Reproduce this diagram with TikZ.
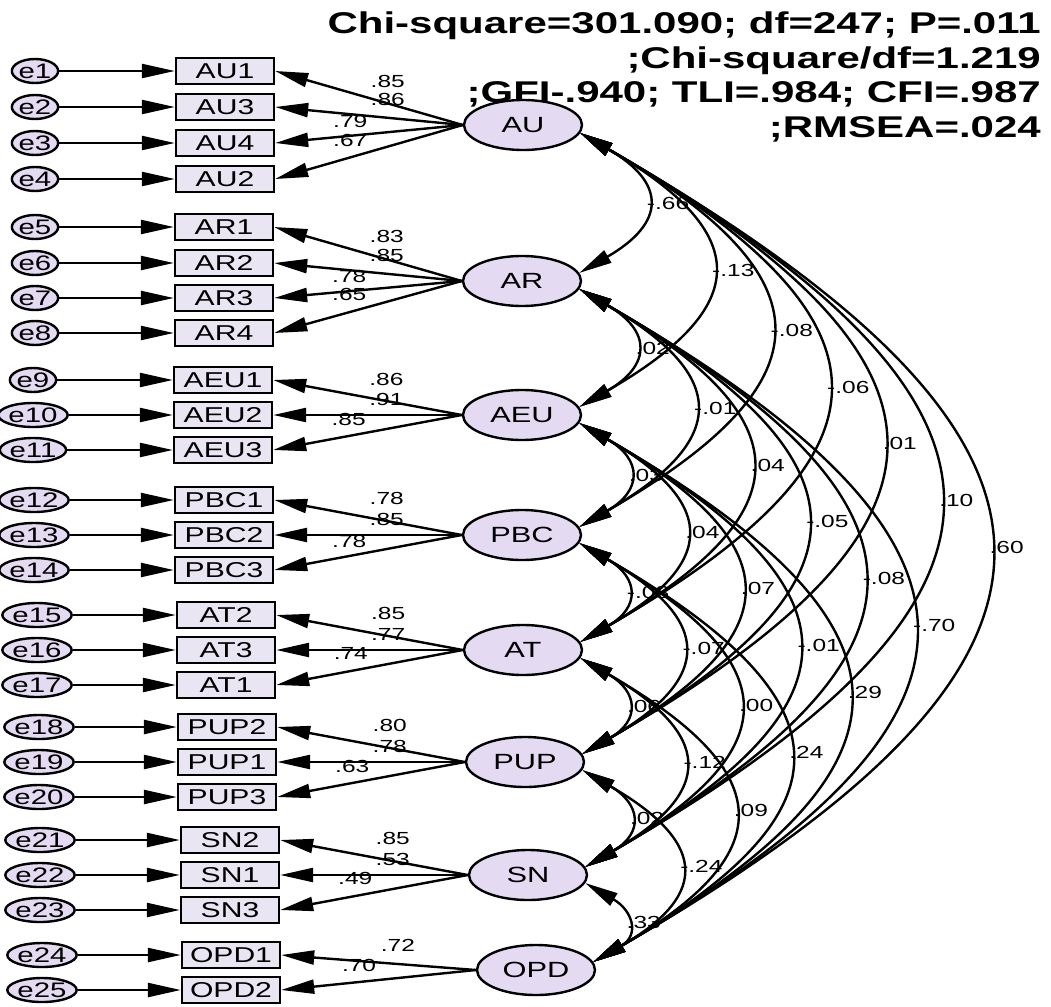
\documentclass[tikz,border=0pt]{standalone}
\usepackage{fontspec}
\setmainfont{Liberation Sans}[FakeStretch=1.4]
\usepackage{xcolor}
\definecolor{latfill}{RGB}{228,218,242}
\definecolor{boxfill}{RGB}{233,229,243}
\usepackage{tikz}
\usetikzlibrary{positioning,arrows.meta,shapes.geometric,calc}

\begin{document}
\begin{tikzpicture}[x=1pt, y=1pt, line width=2.4pt, >={Triangle[length=33pt,width=14pt]},
  latent/.style={ellipse, draw, fill=latfill, minimum width=118pt, minimum height=50pt, inner sep=0pt, font=\fontsize{22}{24}\selectfont},
  item/.style={rectangle, draw, fill=boxfill, minimum width=98pt, minimum height=26pt, inner sep=0pt, font=\fontsize{21.5}{23}\selectfont},
  err/.style={ellipse, draw, fill=latfill, minimum width=44pt, minimum height=24pt, inner sep=0pt, font=\fontsize{21}{23}\selectfont},
  est/.style={font=\fontsize{17.5}{19}\selectfont, inner sep=1pt},
  fitinfo/.style={font=\bfseries\fontsize{30}{34.5}\selectfont, align=right, inner sep=0pt}]
\useasboundingbox (0,0) rectangle (1051,-1006);
\node[fitinfo, anchor=north east] (info) at (1042,-11) {Chi-square=301.090; df=247; P=.011\\;Chi-square/df=1.219\\;GFI-.940; TLI=.984; CFI=.987\\;RMSEA=.024};
\foreach \f/\x/\y in {AU/523/125, AR/522/281, AEU/522/415, PBC/522/535, AT/523/650, PUP/525/762, SN/528/875, OPD/536/970}
  \node[latent] (\f) at (\x,-\y) {\f};
\foreach \v/\y/\n/\f/\l/\p/\s/\bx/\ex in {
  AU1/71/1/AU/.85/.4/14/225/35, AU3/107/2/AU/.86/.4/10/225/35, AU4/143/3/AU/.79/.6/6/225/35, AU2/179/4/AU/.67/.6/9/225/35,
  AR1/227/5/AR/.83/.4/15/224/35, AR2/263/6/AR/.85/.4/10/224/35, AR3/298/7/AR/.78/.6/6/224/35, AR4/333/8/AR/.65/.6/9/224/35,
  AEU1/380/9/AEU/.86/.4/13/223/33, AEU2/415/10/AEU/.91/.4/7/223/33, AEU3/450/11/AEU/.85/.6/8/223/33,
  PBC1/500/12/PBC/.78/.4/14/224/34, PBC2/535/13/PBC/.85/.4/7/224/34, PBC3/570/14/PBC/.78/.6/6/224/34,
  AT2/615/15/AT/.85/.4/14/226/37, AT3/650/16/AT/.77/.4/7/226/37, AT1/685/17/AT/.74/.6/9/226/37,
  PUP2/727/18/PUP/.80/.4/14/227/39, PUP1/762/19/PUP/.78/.4/7/227/39, PUP3/797/20/PUP/.63/.6/8/227/39,
  SN2/840/21/SN/.85/.4/14/230/40, SN1/875/22/SN/.53/.4/7/230/40, SN3/910/23/SN/.49/.6/9/230/40,
  OPD1/955/24/OPD/.72/.4/10/231/42, OPD2/990/25/OPD/.70/.6/8/231/42}
{
  \node[item] (\v) at (\bx,-\y) {\v};
  \node[err] (e\n) at (\ex,-\y) {e\n};
  \draw[->] (e\n) -- (\v);
  \draw[->] (\f.west) -- (\v.east) node[est, pos=\p, anchor=south, yshift=\s pt] {\l};
}
\foreach \fa/\fb/\r in {
  AU/AR/-.66, AU/AEU/-.13, AU/PBC/-.08, AU/AT/-.06, AU/PUP/.01, AU/SN/.10, AU/OPD/.60,
  AR/AEU/.02, AR/PBC/-.01, AR/AT/.04, AR/PUP/-.05, AR/SN/-.08, AR/OPD/-.70,
  AEU/PBC/.03, AEU/AT/.04, AEU/PUP/.07, AEU/SN/-.01, AEU/OPD/.29,
  PBC/AT/-.03, PBC/PUP/-.07, PBC/SN/.00, PBC/OPD/.24,
  AT/PUP/.06, AT/SN/-.12, AT/OPD/.09,
  PUP/SN/.02, PUP/OPD/-.24,
  SN/OPD/.33}
  \draw[<->] let \p1=(\fa), \p2=(\fb), \n1={0.75*(\y1-\y2)-17} in
    (\fa.-8) .. controls +(-30:\n1) and +(30:\n1) .. (\fb.8) node[est, pos=0.5, anchor=west] {\r};
\end{tikzpicture}
\end{document}
